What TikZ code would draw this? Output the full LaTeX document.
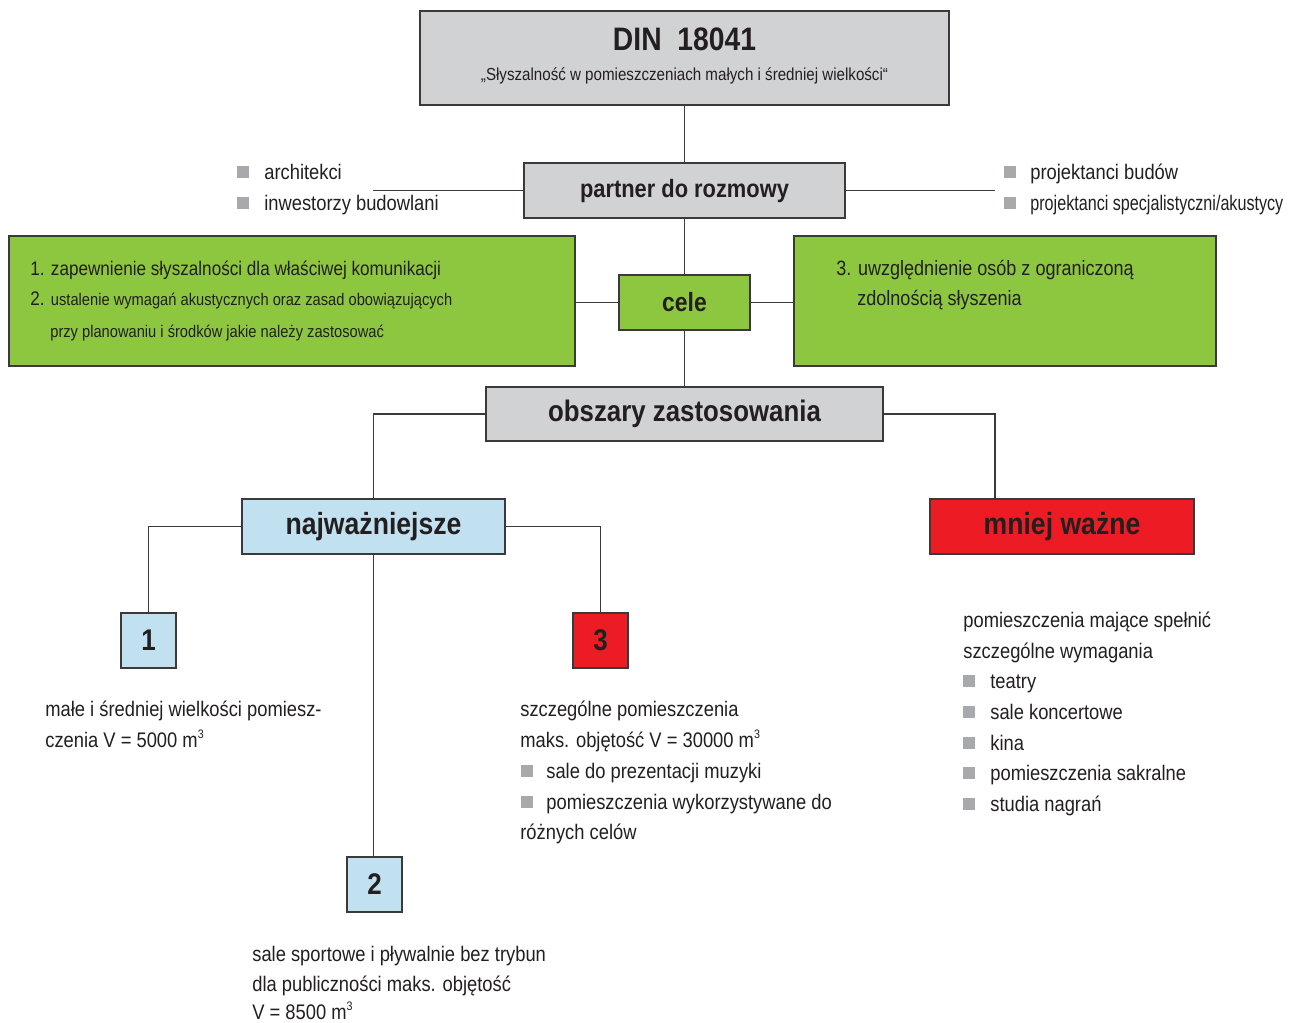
\documentclass[tikz,border=0pt]{standalone}
\usepackage{fontspec}
\setmainfont{Liberation Sans}[FakeStretch=0.87]
\definecolor{txt}{HTML}{231F20}
\definecolor{boxgray}{HTML}{D1D2D4}
\definecolor{grn}{HTML}{8DC63F}
\definecolor{lblue}{HTML}{C2E1F0}
\definecolor{rd}{HTML}{ED1C24}
\definecolor{bul}{HTML}{A7A9AC}
\definecolor{edge}{HTML}{3A3A3A}
\newcommand\pxfs[1]{\fontsize{#1pt}{#1pt}\selectfont}
\newcommand\cubic{\raisebox{0.75ex}{\pxfs{7}3}}
\begin{document}
\begin{tikzpicture}[x=0.02cm,y=-0.02cm,
  box/.style={draw=edge,line width=0.8pt,rectangle,inner sep=0pt,text=txt},
  link/.style={draw=edge,line width=0.7pt},
  tx/.style={anchor=base west,inner sep=0pt,text=txt,font=\pxfs{12}},
  bull/.style={fill=bul,minimum size=0.24cm,inner sep=0pt,draw=none}]
\useasboundingbox[fill=white] (0,0) rectangle (1300,1022);

% boxes
\node[box,fill=boxgray,minimum width=10.58cm,minimum height=1.88cm] (din) at (684.5,58) {};
\node[anchor=base,inner sep=0pt,text=txt,font=\bfseries\pxfs{18.5}] (dint) at (684.5,50) {DIN\ \ 18041};
\node[anchor=base,inner sep=0pt,text=txt,font=\pxfs{9.9}] (dins) at (684.5,80) {„Słyszalność w pomieszczeniach małych i średniej wielkości“};

\node[box,fill=boxgray,minimum width=6.42cm,minimum height=1.1cm,font=\bfseries\pxfs{14.3}] (partner) at (684.5,190.5) {partner do rozmowy};
\node[box,fill=grn,minimum width=2.62cm,minimum height=1.1cm,font=\bfseries\pxfs{15}] (cele) at (684.5,302.5) {cele};
\node[box,fill=grn,minimum width=11.32cm,minimum height=2.6cm] (gl) at (292,301) {};
\node[box,fill=grn,minimum width=8.44cm,minimum height=2.6cm] (gr) at (1005,301) {};
\node[box,fill=boxgray,minimum width=7.94cm,minimum height=1.08cm,font=\bfseries\pxfs{16.9}] (obs) at (684.5,414) {obszary zastosowania};
\node[box,fill=lblue,minimum width=5.26cm,minimum height=1.1cm,font=\bfseries\pxfs{17.4}] (najw) at (373.5,526.5) {najważniejsze};
\node[box,fill=rd,minimum width=5.28cm,minimum height=1.1cm,font=\bfseries\pxfs{17.4}] (mniej) at (1062,526.5) {mniej ważne};
\node[box,fill=lblue,minimum size=1.1cm,font=\bfseries\pxfs{17}] (b1) at (148.5,640.5) {1};
\node[box,fill=rd,minimum size=1.1cm,font=\bfseries\pxfs{17}] (b3) at (600.5,640.5) {3};
\node[box,fill=lblue,minimum size=1.1cm,font=\bfseries\pxfs{17}] (b2) at (374.5,884.5) {2};

% connectors
\coordinate (pl) at (373,190.5);
\coordinate (pr) at (995,190.5);
\coordinate (min) at (995,499);
\draw[link] (din.south) -- (partner.north);
\draw[link] (partner.south) -- (cele.north);
\draw[link] (cele.south) -- (obs.north);
\draw[link] (partner.west) -- (pl);
\draw[link] (partner.east) -- (pr);
\draw[link] (cele.west) -- (cele.west -| gl.east);
\draw[link] (cele.east) -- (cele.east -| gr.west);
\draw[link] (obs.west) -| (najw.north);
\draw[link] (obs.east) -| (min);
\draw[link] (najw.west) -| (b1.north);
\draw[link] (najw.east) -| (b3.north);
\draw[link] (najw.south) -- (najw.south |- b2.north);

% partner lists
\node[bull] (bl1) at (243,172) {};
\node[tx] (tl1) at (264,179) {architekci};
\node[bull] (bl2) at (243,203) {};
\node[tx] (tl2) at (264,210) {inwestorzy budowlani};
\node[bull] (br1) at (1010,172) {};
\node[tx] (tr1) at (1030,179) {projektanci budów};
\node[bull] (br2) at (1010,203) {};
\node[tx] (tr2) at (1030,210) {\scalebox{0.88}[1]{projektanci specjalistyczni/akustycy}};

% goals
\node[tx,font=\pxfs{11.2}] (g1) at (30,275) {1. zapewnienie słyszalności dla właściwej komunikacji};
\node[tx,font=\pxfs{11.2}] (g2) at (30,305) {2. {\pxfs{9.6}ustalenie wymagań akustycznych oraz zasad obowiązujących}};
\node[tx,font=\pxfs{9.6}] (g2b) at (50,337) {przy planowaniu i środków jakie należy zastosować};
\node[tx,font=\pxfs{11.8}] (g3) at (836,275) {3. uwzględnienie osób z ograniczoną};
\node[tx,font=\pxfs{11.8}] (g3b) at (857,305) {zdolnością słyszenia};

% box 1 text
\node[tx] (t1a) at (45,716) {małe i średniej wielkości pomiesz-};
\node[tx] (t1b) at (45,747) {czenia V = 5000 m\cubic};

% box 3 text
\node[tx] (t3a) at (520,716) {szczególne pomieszczenia};
\node[tx] (t3b) at (520,747) {maks. objętość V = 30000 m\cubic};
\node[bull] (b3b1) at (527,771) {};
\node[tx] (t3c) at (546,778) {sale do prezentacji muzyki};
\node[bull] (b3b2) at (527,802) {};
\node[tx] (t3d) at (546,809) {pomieszczenia wykorzystywane do};
\node[tx] (t3e) at (520,839) {różnych celów};

% box 2 text
\node[tx] (t2a) at (252,961) {sale sportowe i pływalnie bez trybun};
\node[tx] (t2b) at (252,991) {dla publiczności maks. objętość};
\node[tx] (t2c) at (252,1019) {V = 8500 m\cubic};

% right column
\node[tx] (r1) at (963,627) {pomieszczenia mające spełnić};
\node[tx] (r2) at (963,658) {szczególne wymagania};
\node[bull] (rb1) at (969,681) {};
\node[tx] (r3) at (990,688) {teatry};
\node[bull] (rb2) at (969,712) {};
\node[tx] (r4) at (990,719) {sale koncertowe};
\node[bull] (rb3) at (969,743) {};
\node[tx] (r5) at (990,750) {kina};
\node[bull] (rb4) at (969,773) {};
\node[tx] (r6) at (990,780) {pomieszczenia sakralne};
\node[bull] (rb5) at (969,804) {};
\node[tx] (r7) at (990,811) {studia nagrań};
\end{tikzpicture}
\end{document}
